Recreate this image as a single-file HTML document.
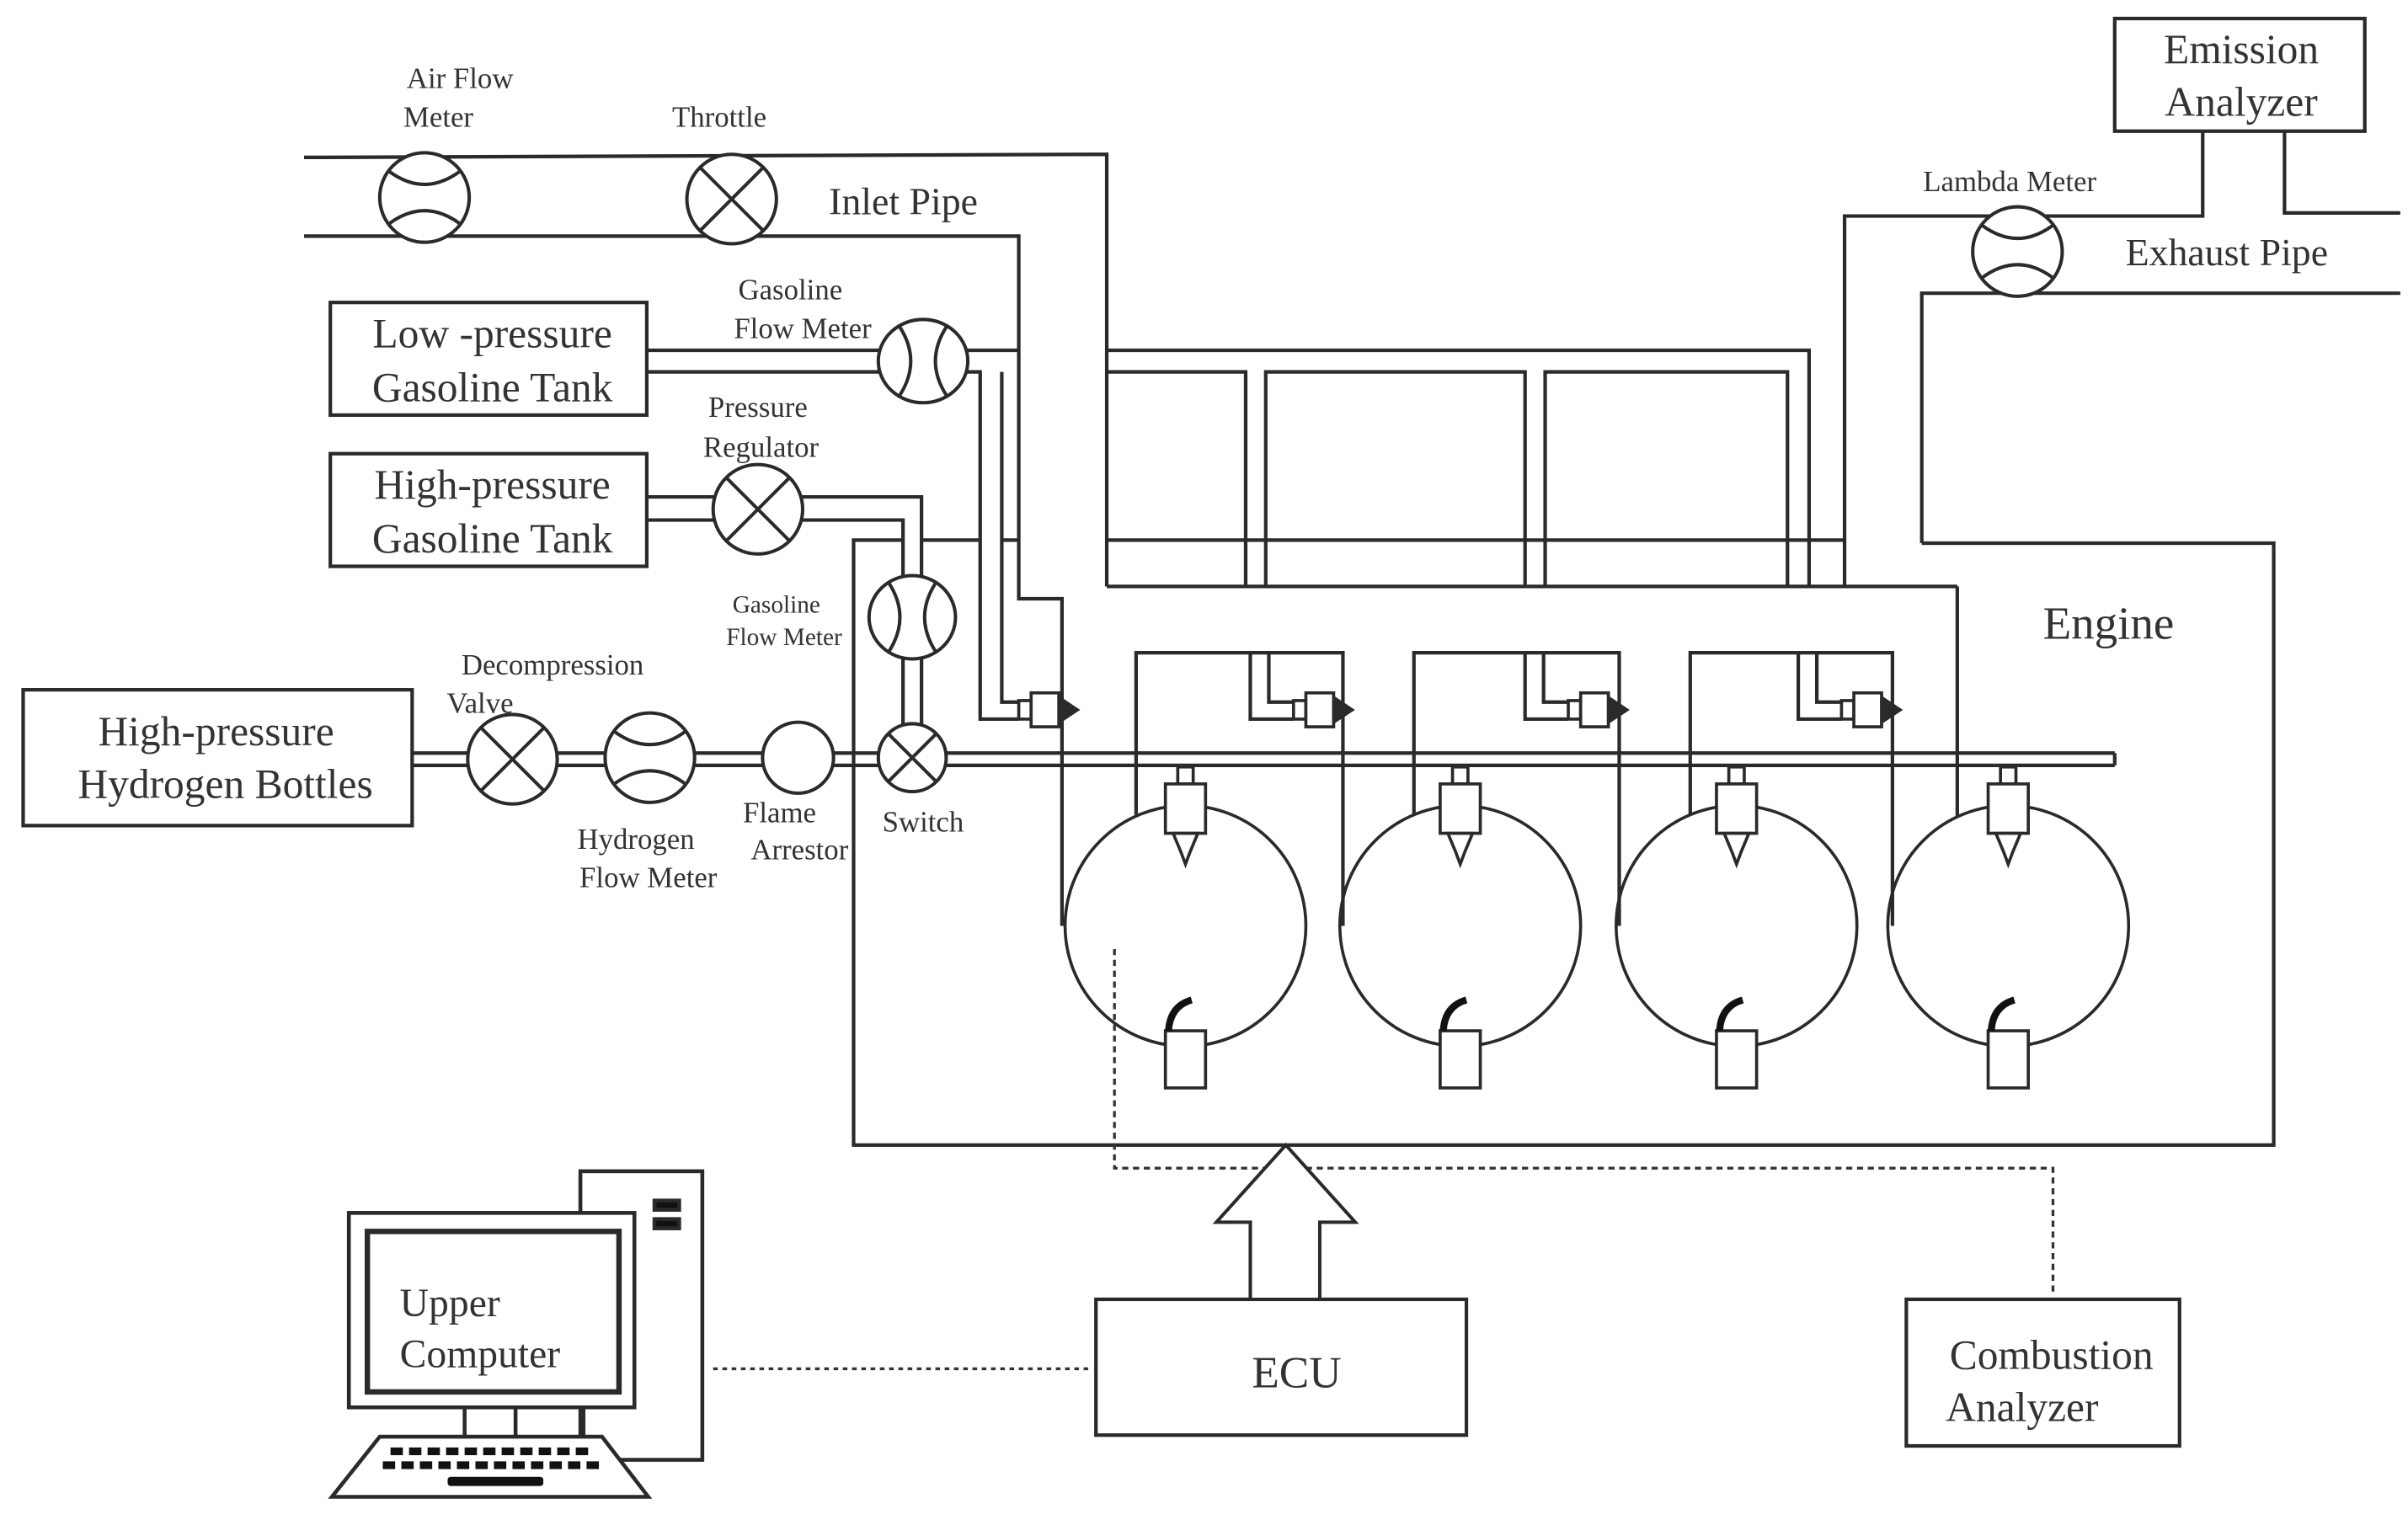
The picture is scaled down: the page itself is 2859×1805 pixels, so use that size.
<!DOCTYPE html>
<html><head><meta charset="utf-8"><style>
html,body{margin:0;padding:0;background:#fff}
svg{display:block}
text{font-family:"Liberation Serif",serif;fill:#333}
</style></head><body>
<svg width="2859" height="1805" viewBox="0 0 1560 985" preserveAspectRatio="none" xmlns="http://www.w3.org/2000/svg">
<g fill="none" stroke="#2a2a2a" stroke-width="2.3">
<!-- inlet pipe -->
<polyline points="197,102 717,100 717,380"/>
<polyline points="197,153 660,153 660,388 688,388 688,600"/>
<!-- low pressure gasoline lines -->
<line x1="419" y1="227" x2="660" y2="227"/>
<polyline points="419,241 635,241 635,466 660,466"/>
<polyline points="649,241 649,455 660,455"/>
<!-- high pressure gasoline -->
<polyline points="419,322 597,322 597,376"/>
<polyline points="419,337 585,337 585,376"/>
<line x1="585" y1="427" x2="585" y2="470"/>
<line x1="597" y1="427" x2="597" y2="470"/>
<!-- hydrogen line -->
<line x1="267" y1="488" x2="1370" y2="488"/>
<line x1="267" y1="496" x2="1370" y2="496"/>
<line x1="1370" y1="488" x2="1370" y2="496"/>
<!-- engine box -->
<polyline points="1245,352 1473,352 1473,742 553,742 553,350 585,350"/>
<line x1="597" y1="350" x2="635" y2="350"/>
<line x1="649" y1="350" x2="660" y2="350"/>
<!-- manifold -->
<polyline points="717,227 1172,227 1172,380"/>
<line x1="717" y1="380" x2="1268" y2="380"/>
<line x1="1268" y1="380" x2="1268" y2="529"/>
<polyline points="717,241 807,241 807,380"/>
<polyline points="820,380 820,241 988,241 988,380"/>
<polyline points="1001,380 1001,241 1158,241 1158,380"/>
<line x1="717" y1="350" x2="1195" y2="350"/>
<!-- exhaust -->
<polyline points="1195,380 1195,140 1427,140 1427,85"/>
<polyline points="1480,85 1480,138 1555,138"/>
<polyline points="1245,352 1245,190 1555,190"/>
<rect x="1370" y="12" width="162" height="73"/>
<!-- boxes -->
<rect x="214" y="196" width="205" height="73"/>
<rect x="214" y="294" width="205" height="73"/>
<rect x="15" y="447" width="252" height="88"/>
<rect x="710" y="842" width="240" height="88"/>
<rect x="1235" y="842" width="177" height="95"/>
<!-- wiring -->
<polyline points="736,528 736,423 870,423 870,600"/>
<polyline points="916,528 916,423 1049,423 1049,600"/>
<polyline points="1095,528 1095,423 1226,423 1226,600"/>
<!-- port injector pipes -->
<polyline points="810,423 810,466 838,466"/>
<polyline points="822,423 822,455 838,455"/>
<polyline points="988,423 988,466 1016,466"/>
<polyline points="1000,423 1000,455 1016,455"/>
<polyline points="1165,423 1165,466 1193,466"/>
<polyline points="1177,423 1177,455 1193,455"/>
</g>
<!-- cylinders -->
<g fill="none" stroke="#2a2a2a" stroke-width="2">
<circle cx="768" cy="600" r="78"/><circle cx="946" cy="600" r="78"/><circle cx="1125" cy="600" r="78"/><circle cx="1301" cy="600" r="78"/>
</g>
<!-- injectors (gasoline) -->
<g fill="#fff" stroke="#2a2a2a" stroke-width="2">
<g id="inj"><rect x="660" y="454" width="8" height="12"/><rect x="668" y="449" width="18" height="22"/><polygon points="686,452 698,460 686,468" fill="#2a2a2a"/></g>
<use href="#inj" x="178" y="0"/><use href="#inj" x="356" y="0"/><use href="#inj" x="533" y="0"/>
</g>
<!-- hydrogen injectors & spark plugs -->
<g fill="#fff" stroke="#2a2a2a" stroke-width="2">
<g id="hinj"><rect x="763" y="497" width="10" height="11"/><rect x="755" y="508" width="26" height="32"/><polygon points="760,540 776,540 771,552 768,560 765,552"/>
<rect x="755" y="668" width="26" height="37"/><path d="M757,668 Q758,652 772,648" fill="none" stroke-width="4.5" stroke="#111"/></g>
<use href="#hinj" x="178"/><use href="#hinj" x="357"/><use href="#hinj" x="533"/>
</g>
<!-- components -->
<g fill="#fff" stroke="#2a2a2a" stroke-width="2.2">
<!-- air flow meter -->
<circle cx="275" cy="128" r="29"/>
<path d="M252,111 Q275,128 298,111 M252,145 Q275,128 298,145" fill="none"/>
<!-- throttle -->
<circle cx="474" cy="129" r="29"/>
<path d="M454,109 L494,149 M494,109 L454,149"/>
<!-- gasoline flow meter 1 -->
<ellipse cx="598" cy="234" rx="29" ry="27"/>
<path d="M583,212 Q597,234 583,256 M613,212 Q599,234 613,256" fill="none"/>
<!-- pressure regulator -->
<circle cx="491" cy="330" r="29"/>
<path d="M471,310 L511,350 M511,310 L471,350"/>
<!-- gasoline flow meter 2 -->
<ellipse cx="591" cy="400" rx="28" ry="27"/>
<path d="M576,378 Q590,400 576,422 M606,378 Q592,400 606,422" fill="none"/>
<!-- switch -->
<circle cx="591" cy="491" r="22"/>
<path d="M575,475 L607,507 M607,475 L575,507"/>
<!-- decompression valve -->
<circle cx="332" cy="492" r="29"/>
<path d="M312,472 L352,512 M352,472 L312,512"/>
<!-- hydrogen flow meter -->
<circle cx="421" cy="491" r="29"/>
<path d="M398,474 Q421,491 444,474 M398,508 Q421,491 444,508" fill="none"/>
<!-- flame arrestor -->
<circle cx="517" cy="491" r="23"/>
<!-- lambda meter -->
<circle cx="1307" cy="163" r="29"/>
<path d="M1284,146 Q1307,163 1330,146 M1284,180 Q1307,163 1330,180" fill="none"/>
</g>
<!-- dashed/dotted lines -->
<polyline points="722,615 722,757 1330,757 1330,840" fill="none" stroke="#333" stroke-width="1.8" stroke-dasharray="4,3"/>
<line x1="462" y1="887" x2="708" y2="887" stroke="#333" stroke-width="1.8" stroke-dasharray="3,3"/>
<!-- ECU arrow -->
<polygon points="810,842 810,792 788,792 833,742 878,792 855,792 855,842" fill="#fff" stroke="#2a2a2a" stroke-width="2.2"/>
<!-- computer -->
<g fill="#fff" stroke="#2a2a2a" stroke-width="2.5">
<rect x="376" y="759" width="79" height="187"/>
<rect x="424" y="778" width="16" height="6" fill="#111"/><rect x="424" y="790" width="16" height="6" fill="#111"/>
<line x1="301" y1="912" x2="301" y2="935"/><line x1="334" y1="912" x2="334" y2="935"/><line x1="378" y1="912" x2="378" y2="935"/>
<rect x="226" y="786" width="185" height="126"/>
<rect x="238" y="798" width="163" height="104" stroke-width="3.5"/>
<polygon points="246,931 390,931 420,970 215,970"/>
</g>
<g fill="#111">
<rect x="253" y="938" width="8" height="5"/><rect x="265" y="938" width="8" height="5"/><rect x="277" y="938" width="8" height="5"/><rect x="289" y="938" width="8" height="5"/><rect x="301" y="938" width="8" height="5"/><rect x="313" y="938" width="8" height="5"/><rect x="325" y="938" width="8" height="5"/><rect x="337" y="938" width="8" height="5"/><rect x="349" y="938" width="8" height="5"/><rect x="361" y="938" width="8" height="5"/><rect x="373" y="938" width="8" height="5"/>
<rect x="248" y="947" width="8" height="5"/><rect x="260" y="947" width="8" height="5"/><rect x="272" y="947" width="8" height="5"/><rect x="284" y="947" width="8" height="5"/><rect x="296" y="947" width="8" height="5"/><rect x="308" y="947" width="8" height="5"/><rect x="320" y="947" width="8" height="5"/><rect x="332" y="947" width="8" height="5"/><rect x="344" y="947" width="8" height="5"/><rect x="356" y="947" width="8" height="5"/><rect x="368" y="947" width="8" height="5"/><rect x="380" y="947" width="8" height="5"/>
<rect x="290" y="957" width="62" height="6" rx="2"/>
</g>
<!-- texts -->
<g font-size="19" text-anchor="middle">
<text x="298" y="57">Air Flow</text><text x="284" y="82">Meter</text>
<text x="466" y="82">Throttle</text>
<text x="512" y="194">Gasoline</text><text x="520" y="219">Flow Meter</text>
<text x="491" y="270">Pressure</text><text x="493" y="296">Regulator</text>
<text x="358" y="437">Decompression</text><text x="311" y="462">Valve</text>
<text x="412" y="550">Hydrogen</text><text x="420" y="575">Flow Meter</text>
<text x="505" y="533">Flame</text><text x="518" y="557">Arrestor</text>
<text x="598" y="539">Switch</text>
<text x="1302" y="124">Lambda Meter</text>
</g>
<g font-size="16" text-anchor="middle">
<text x="503" y="397">Gasoline</text><text x="508" y="418">Flow Meter</text>
</g>
<g font-size="25">
<text x="537" y="139">Inlet Pipe</text>
<text x="1377" y="172">Exhaust Pipe</text>
</g>
<g font-size="27" text-anchor="middle">
<text x="319" y="225">Low -pressure</text><text x="319" y="260">Gasoline Tank</text>
<text x="319" y="323">High-pressure</text><text x="319" y="358">Gasoline Tank</text>
<text x="140" y="483">High-pressure</text><text x="146" y="517">Hydrogen Bottles</text>
<text x="1452" y="41">Emission</text><text x="1452" y="75">Analyzer</text>
<text x="1329" y="887">Combustion</text><text x="1310" y="921">Analyzer</text>
<text x="840" y="899" font-size="29">ECU</text>
<text x="1366" y="414" font-size="30">Engine</text>
</g>
<g font-size="26">
<text x="259" y="853">Upper</text><text x="259" y="886">Computer</text>
</g>
</svg>
</body></html>
